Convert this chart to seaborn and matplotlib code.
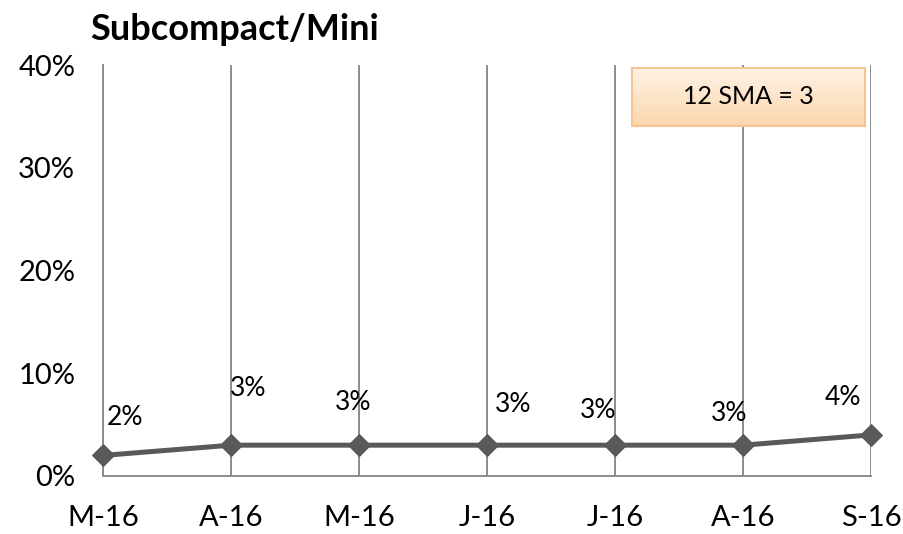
import matplotlib
matplotlib.use("Agg")
import matplotlib.pyplot as plt
import seaborn as sns
import numpy as np
import pandas as pd
from matplotlib.colors import LinearSegmentedColormap

months = ["M-16", "A-16", "M-16", "J-16", "J-16", "A-16", "S-16"]
share = [2, 3, 3, 3, 3, 3, 4]
point_labels = ["2%", "3%", "3%", "3%", "3%", "3%", "4%"]
y_ticks = [0, 10, 20, 30, 40]
title = "Subcompact/Mini"
sma_text = "12 SMA = 3"

# label offsets (points) from each marker
label_offsets = [(16, 27), (12, 41), (-4, 31), (19, 29), (-12, 25), (-10, 23), (-20, 27)]

sns.set_theme(style="white")
plt.rcParams["font.family"] = ["Lato", "DejaVu Sans"]

df = pd.DataFrame({"pos": np.arange(len(months)), "share": share})

fig = plt.figure(figsize=(9.04, 5.34), dpi=100)
ax = fig.add_axes([103 / 904, 58 / 534, 768 / 904, 411 / 534])

sns.lineplot(data=df, x="pos", y="share", ax=ax, color="#595959", linewidth=3.6,
             marker="D", markersize=11, markeredgecolor="#595959", sort=False)
for ln in ax.lines:
    ln.set_clip_on(False)
    ln.set_zorder(4)

ax.set_xlim(0, len(months) - 1)
ax.set_ylim(0, 40)
ax.set_xticks(df["pos"])
ax.set_xticklabels(months)
ax.set_yticks(y_ticks)
ax.set_yticklabels([f"{v}%" for v in y_ticks])
ax.set_xlabel("")
ax.set_ylabel("")

for x in df["pos"]:
    ax.axvline(x, color="#8c8c8c", linewidth=1.4, zorder=0)

for s in ["top", "right"]:
    ax.spines[s].set_visible(False)
for s in ["left", "bottom"]:
    ax.spines[s].set_color("#8c8c8c")
    ax.spines[s].set_linewidth(1.4)

ax.tick_params(axis="both", which="both", length=7, width=1.4, color="#8c8c8c",
               labelsize=21, labelcolor="black", direction="out")
ax.tick_params(axis="x", pad=14)
ax.tick_params(axis="y", pad=13)

for x, y, lab, (dx, dy) in zip(df["pos"], share, point_labels, label_offsets):
    ax.annotate(lab, (x, y), xytext=(dx, dy), textcoords="offset points",
                ha="center", va="center", fontsize=19, color="black")

fig.text(90 / 904, 1 - 30 / 534, title, fontsize=26, fontweight="bold",
         ha="left", va="center", color="black")

# SMA note box with a soft vertical gradient fill
bax = fig.add_axes([632 / 904, 1 - 126 / 534, 233 / 904, 58 / 534], zorder=5)
grad = LinearSegmentedColormap.from_list("peach", ["#fef2e6", "#fcd7ad"])
bax.imshow(np.linspace(0, 1, 100).reshape(-1, 1), cmap=grad, aspect="auto",
           extent=(0, 1, 0, 1), origin="upper")
bax.set_xticks([])
bax.set_yticks([])
for s in bax.spines.values():
    s.set_visible(True)
    s.set_color("#f6c393")
    s.set_linewidth(1.5)
bax.text(0.5, 0.5, sma_text, fontsize=18, ha="center", va="center",
         color="black", transform=bax.transAxes)

fig.savefig("out.png", dpi=100)
